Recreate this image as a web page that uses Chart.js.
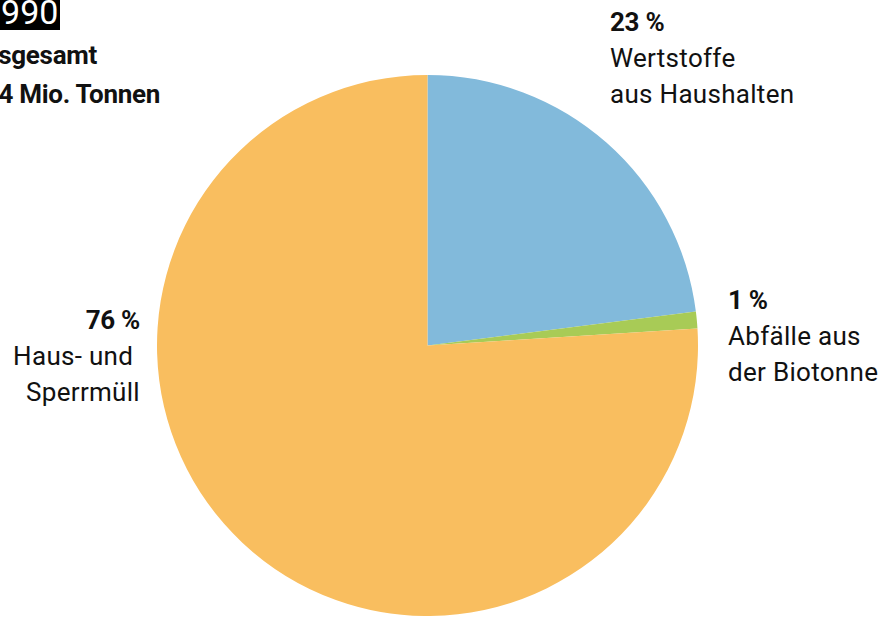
<!DOCTYPE html>
<html><head><meta charset="utf-8">
<script src="https://cdn.jsdelivr.net/npm/chart.js@4/dist/chart.umd.min.js"></script>
<style>
html,body{margin:0;padding:0;background:#fff;width:885px;height:617px;overflow:hidden;position:relative;
font-family:"Roboto","Liberation Sans",sans-serif;color:#111;}
#c{position:absolute;left:157px;top:75px;}
.t{position:absolute;white-space:nowrap;font-size:26px;line-height:36px;letter-spacing:0.3px;}
.b{font-weight:bold;letter-spacing:-0.3px;}
#year{position:absolute;left:-22px;top:-5px;background:#000;color:#fff;font-size:34px;line-height:35px;padding:0 2px 0 4px;}
</style></head><body>
<div id="year">1990</div>
<div class="t b" style="right:788px;top:37px;text-align:right">Insgesamt</div>
<div class="t b" style="right:725px;top:76px;text-align:right">44 Mio. Tonnen</div>
<div id="labels"></div>
<canvas id="c" width="541" height="541"></canvas>
<script>
const categories = ["Wertstoffe aus Haushalten", "Abfälle aus der Biotonne", "Haus- und Sperrmüll"];
const values = [23, 1, 76];
const colors = ["#82BADB", "#A8CB56", "#F9BE5F"];
const labelLines = [["Wertstoffe", "aus Haushalten"], ["Abfälle aus", "der Biotonne"], ["Haus- und ", "Sperrmüll"]];

new Chart(document.getElementById('c'), {
  type: 'pie',
  data: { labels: categories, datasets: [{ data: values, backgroundColor: colors, borderWidth: 0 }] },
  options: {
    responsive: false, animation: false,
    layout: { padding: 0 },
    plugins: { legend: { display: false }, tooltip: { enabled: false } }
  }
});

const pos = [
  {left: 610, top: 4, align: 'left'},
  {left: 728, top: 282, align: 'left'},
  {right: 745, top: 302, align: 'right'}
];
const host = document.getElementById('labels');
values.forEach((v, i) => {
  const d = document.createElement('div');
  d.className = 't';
  const p = pos[i];
  if (p.left !== undefined) d.style.left = p.left + 'px'; else d.style.right = p.right + 'px';
  d.style.top = p.top + 'px';
  d.style.textAlign = p.align;
  d.innerHTML = '<div class="b">' + v + ' %</div>' + labelLines[i].map(s => '<div style="white-space:pre">' + s + '</div>').join('');
  host.appendChild(d);
});
</script>
</body></html>
